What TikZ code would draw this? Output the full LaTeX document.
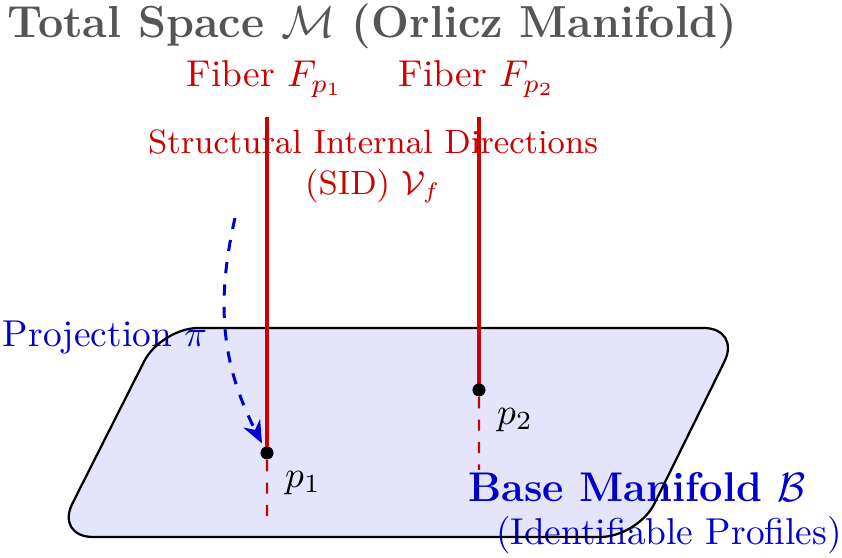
\documentclass[tikz,border=0pt]{standalone}
\usepackage{amsmath}
\usepackage{xcolor}
\usepackage{tikz}
\usetikzlibrary{positioning,arrows.meta}
\definecolor{fibred}{HTML}{CC0000}
\definecolor{projblue}{HTML}{0000CC}
\definecolor{titlegray}{HTML}{555555}
\definecolor{planefill}{HTML}{E4E4FA}
\tikzset{
  plane/.style={rounded corners=10pt},
  fiber/.style={line width=1.1pt, color=fibred},
  fibext/.style={dashed, semithick, color=fibred},
  ptdot/.style={circle, fill=black, inner sep=0pt, minimum size=3.4pt},
  proj/.style={-{Stealth[length=6pt,width=5pt]}, dashed, thick, color=projblue},
  redtxt/.style={text=fibred, align=center},
  bluetxt/.style={text=projblue},
}

\begin{document}
\begin{tikzpicture}[scale=0.94]
  \useasboundingbox (0,0) rectangle (8.42,5.58);

  % base manifold (fill first, outline drawn over the labels)
  \coordinate (bl) at (0.555,0.21);
  \coordinate (br) at (6.38,0.21);
  \coordinate (tr) at (7.41,2.30);
  \coordinate (tl) at (1.61,2.30);
  \fill[plane, planefill] (bl) -- (br) -- (tr) -- (tl) -- cycle;

  % labels
  \node[font=\large\bfseries, text=titlegray, inner sep=1pt] (title) at (3.72,5.32)
        {Total Space $\mathcal{M}$ (Orlicz Manifold)};
  \node[redtxt, font=\small] (sid) at (3.73,3.92)
        {Structural Internal Directions\\(SID) $\mathcal{V}_f$};
  \node[bluetxt] (projlbl) at (1.05,2.20) {Projection $\pi$};
  \node[bluetxt, font=\fontsize{11.1}{13.4}\selectfont\bfseries] (baselbl) at (6.37,0.71)
        {Base Manifold $\mathcal{B}$};
  \node[bluetxt] (basesub) at (6.69,0.23) {(Identifiable Profiles)};

  \draw[plane, semithick] (bl) -- (br) -- (tr) -- (tl) -- cycle;

  % points and fibers
  \node[ptdot] (p1) at (2.67,1.05) {};
  \node[ptdot] (p2) at (4.79,1.68) {};
  \coordinate (ft1) at (2.67,4.41);
  \coordinate (ft2) at (4.79,4.41);
  \coordinate (fb1) at (2.67,0.40);
  \coordinate (fb2) at (4.79,0.88);

  \draw[fibext] (p1) -- (fb1);
  \draw[fibext] (p2) -- (fb2);
  \draw[fiber] (ft1) -- (p1.center);
  \draw[fiber] (ft2) -- (p2.center);
  \node[ptdot] at (p1) {};
  \node[ptdot] at (p2) {};

  \node[text=fibred] (f1lbl) at (2.65,4.79) {Fiber $F_{p_1}$};
  \node[text=fibred] (f2lbl) at (4.77,4.79) {Fiber $F_{p_2}$};
  \node[below right=0pt and 0pt of p1] (p1lbl) {$p_1$};
  \node[below right=0pt and 0pt of p2] (p2lbl) {$p_2$};

  % projection
  \coordinate (projsrc) at (2.35,3.40);
  \draw[proj, shorten >=1pt] (projsrc) to[bend right=20] (p1);
\end{tikzpicture}
\end{document}
